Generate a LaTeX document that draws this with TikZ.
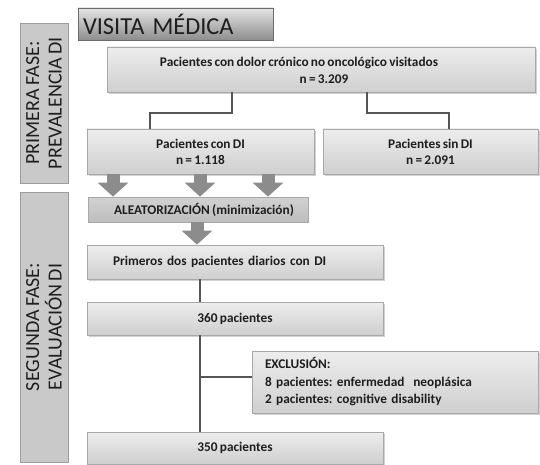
\documentclass[tikz,border=0pt]{standalone}
\usepackage{fontspec}
\setmainfont{Carlito}[WordSpace={0.75,0,0}]
\frenchspacing
\usetikzlibrary{shadows,arrows.meta}
\definecolor{txtc}{HTML}{1E1E1E}
\definecolor{linkc}{HTML}{555555}
\definecolor{arrc}{HTML}{8C8C8C}
\definecolor{bordc}{HTML}{A8A8A8}
\definecolor{boxtop}{HTML}{EDEDED}
\definecolor{boxbot}{HTML}{CFCFCF}
\definecolor{phasec}{HTML}{C9C9C9}
\definecolor{phasebord}{HTML}{9C9C9C}
\definecolor{visitop}{HTML}{E4E4E4}
\definecolor{visibot}{HTML}{8E8E8E}
\definecolor{visibord}{HTML}{6A6A6A}
\definecolor{aleatop}{HTML}{D2D2D2}
\definecolor{aleabot}{HTML}{BDBDBD}
\begin{document}
\begin{tikzpicture}[x=1pt,y=-1pt,
  boxtext/.style={text=txtc, font=\fontsize{13.3}{16}\selectfont\bfseries},
  box/.style={boxtext, draw=bordc, line width=0.8pt, top color=boxtop, bottom color=boxbot, inner sep=0pt,
    drop shadow={shadow xshift=1.6pt, shadow yshift=-1.6pt, opacity=0.45, fill=gray!80}},
  phasebox/.style={draw=phasebord, line width=0.9pt, fill=phasec, inner sep=0pt},
  phasetext/.style={text=txtc, rotate=90, align=center, font=\fontsize{20}{22.5}\selectfont, inner sep=0pt},
  visitabox/.style={draw=visibord, line width=0.9pt, top color=visitop, bottom color=visibot, inner sep=0pt,
    text=txtc, font=\fontsize{24.4}{28}\selectfont},
  aleabox/.style={boxtext, draw=bordc, line width=0.8pt, top color=aleatop, bottom color=aleabot, inner sep=0pt},
  link/.style={draw=linkc, line width=1.4pt},
  blockarrow/.style={draw=arrc, line width=13pt, line cap=butt, -{Triangle[width=30pt,length=14pt]}},
]
\useasboundingbox (0,0) rectangle (540,465);

% phase boxes
\node[phasebox, minimum width=48, minimum height=160] (fase1) at (44,103) {};
\node[phasetext] (fase1t) at (fase1.center) {PRIMERA FASE:\\PREVALENCIA DI};
\node[phasebox, minimum width=48, minimum height=270] (fase2) at (44,327) {};
\node[phasetext] (fase2t) at (fase2.center) {SEGUNDA FASE:\\EVALUACIÓN DI};

% title
\node[visitabox, minimum width=195, minimum height=32, text width=185, align=left, inner xsep=5pt] (visita) at (175.5,24) {VISITA MÉDICA};

% boxes
\node[box, minimum width=428, minimum height=45] (top) at (321,69.5) {};
\node[boxtext, inner sep=0pt] (topl1) at (299,63) {Pacientes con dolor crónico no oncológico visitados};
\node[boxtext, inner sep=0pt] (topl2) at (324,79) {n = 3.209};

\node[box, minimum width=227, minimum height=45, align=center] (dil) at (200.5,151.5) {Pacientes con DI\\n = 1.118};
\node[box, minimum width=215, minimum height=45, align=center] (sdi) at (430.5,151.5) {Pacientes sin DI\\n = 2.091};

\node[aleabox, minimum width=220, minimum height=25] (alea) at (198,209.5) {\hspace{12pt}ALEATORIZACIÓN (minimización)};

\node[box, minimum width=296, minimum height=34, text width=244, align=left, inner xsep=26pt] (prim) at (235,262) {Primeros dos pacientes diarios con DI};
\node[box, minimum width=296, minimum height=33] (p360) at (235,318.5) {360 pacientes};
\node[box, minimum width=286, minimum height=62, text width=260, align=left, inner xsep=13pt,
  font=\fontsize{13.3}{17.5}\selectfont\bfseries] (excl) at (395,382) {EXCLUSIÓN:\\8 pacientes: enfermedad\ \ neoplásica\\2 pacientes: cognitive disability};
\node[box, minimum width=296, minimum height=32] (p350) at (235,448) {350 pacientes};

% helper coordinates
\coordinate (k1) at (232,0);
\coordinate (k2) at (150,0);
\coordinate (k3) at (367,0);
\coordinate (k4) at (449,0);
\coordinate (midy) at (0,113);
\coordinate (a1) at (113,0);
\coordinate (a2) at (200,0);
\coordinate (a3) at (268,0);
\coordinate (a4) at (197,0);
\coordinate (v) at (200,0);
\coordinate (by) at (0,377);

% connectors
\draw[link] (top.south -| k1) |- (midy -| k2) -- (dil.north -| k2);
\draw[link] (top.south -| k3) |- (midy -| k4) -- (sdi.north -| k4);
\draw[link] (prim.south -| v) -- (p360.north -| v);
\draw[link] (p360.south -| v) -- (p350.north -| v);
\draw[link] (by -| v) -- (by -| excl.west);

% block arrows
\draw[blockarrow] (dil.south -| a1) -- (alea.north -| a1);
\draw[blockarrow] (dil.south -| a2) -- (alea.north -| a2);
\draw[blockarrow] (dil.south -| a3) -- (alea.north -| a3);
\draw[blockarrow] (alea.south -| a4) -- (prim.north -| a4);
\end{tikzpicture}
\end{document}
